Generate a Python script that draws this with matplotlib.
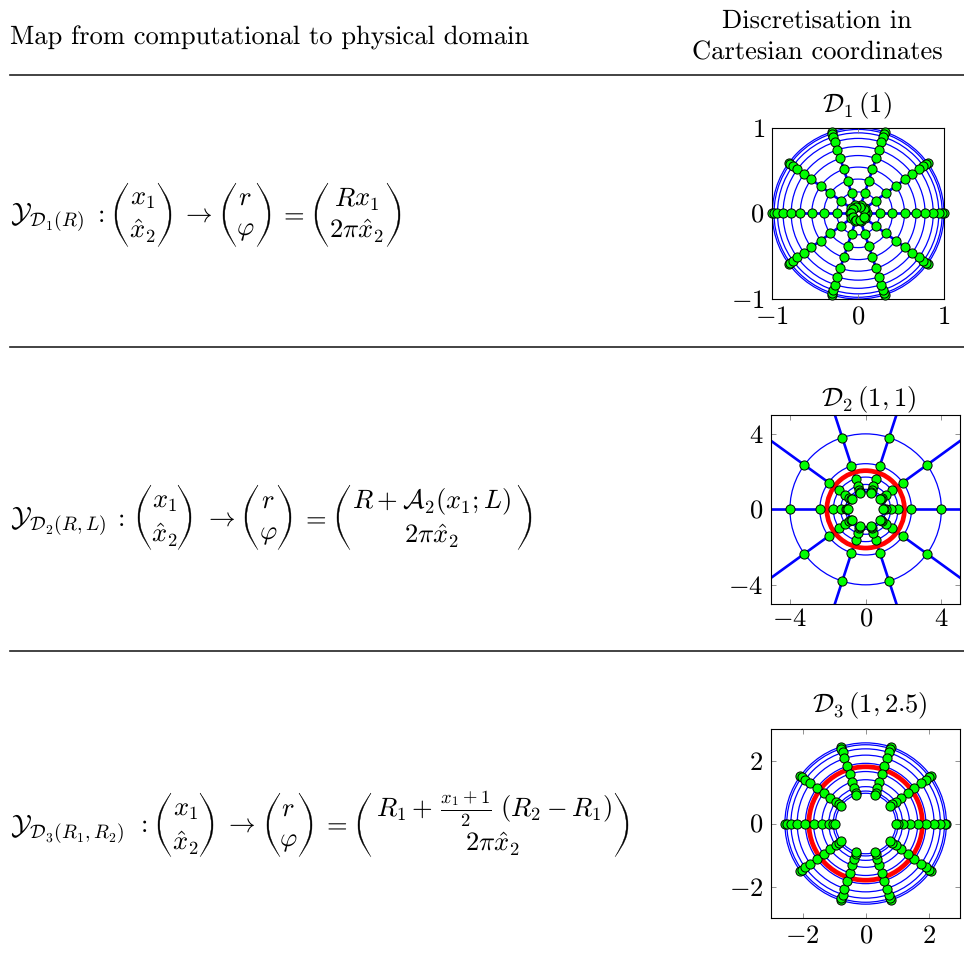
import numpy as np
import matplotlib
matplotlib.use('Agg')
import matplotlib.pyplot as plt
from matplotlib.patches import Circle, PathPatch
from matplotlib.path import Path

plt.rcParams['font.family'] = 'cmr10'
plt.rcParams['mathtext.fontset'] = 'cm'
plt.rcParams['axes.unicode_minus'] = False
plt.rcParams['axes.formatter.use_mathtext'] = True
plt.rcParams['text.hinting'] = 'none'
plt.rcParams['text.hinting_factor'] = 1

W, H = 964, 966
FS = 19.1

spoke_angles = [0, 36, 72, 108, 144, 180, 216, 252, 288, 324]

radii_1 = [1.0, 0.98, 0.94, 0.875, 0.78, 0.675, 0.54, 0.4, 0.25, 0.1, 0.08]
radii_2 = [4.0, 2.42, 1.71, 1.32, 1.06, 0.97, 0.92]
radii_3 = [2.56, 2.5, 2.37, 2.17, 1.91, 1.65, 1.39, 1.17, 1.03, 0.96]
red_ring_2 = 2.05
red_ring_3 = 1.8
spoke_end_2 = 8.0

ticks_1 = [-1, 0, 1]
ticks_2 = [-4, 0, 4]
ticks_3 = [-2, 0, 2]

BLUE = '#0000ff'
RED = '#ff0000'
GREEN = '#00ff00'

fig = plt.figure(figsize=(W / 100, H / 100), dpi=100)

# overlay in pixel coordinates for the table part
bg = fig.add_axes([0, 0, 1, 1])
bg.set_xlim(0, W)
bg.set_ylim(H, 0)
bg.axis('off')


def txt(x, y, s, ha='center', size=FS):
    bg.text(x, y, s, ha=ha, va='center', fontsize=size, color='black')


def paren(x0, x1, top, bottom, left=True):
    # crescent shaped big bracket
    if left:
        tip, belly, t = x1, x0, 1.7
    else:
        tip, belly, t = x0, x1, -1.7
    mid = (top + bottom) / 2
    h = bottom - top
    w = x1 - x0
    s = 1 if left else -1
    verts = [(tip, top),
             (belly + s * 0.25 * w, top + 0.22 * h), (belly, mid - 0.18 * h), (belly, mid),
             (belly, mid + 0.18 * h), (belly + s * 0.25 * w, bottom - 0.22 * h), (tip, bottom),
             (belly + s * 0.25 * w + t, bottom - 0.22 * h), (belly + t, mid + 0.18 * h), (belly + t, mid),
             (belly + t, mid - 0.18 * h), (belly + s * 0.25 * w + t, top + 0.22 * h), (tip, top)]
    codes = [Path.MOVETO] + [Path.CURVE4] * 12
    bg.add_patch(PathPatch(Path(verts, codes), fc='black', ec='black', lw=0.25))


for y in [75, 347, 651]:
    bg.plot([10, 964], [y, y], color='#222222', lw=1.2)

bg.text(10, 38, 'Map from computational to physical domain', ha='left', va='center', fontsize=FS)
txt(817, 21, 'Discretisation in')
txt(817, 53, 'Cartesian coordinates')

# row 1
txt(10, 217, r'$\mathcal{Y}_{\mathcal{D}_1(R)}$', ha='left', size=FS + 1)
txt(99, 215, r'$:$')
paren(115, 128, 183, 247)
txt(142, 199, r'$x_1$')
txt(142, 230, r'$\hat{x}_2$')
paren(158, 171, 183, 247, left=False)
txt(197, 215, r'$\rightarrow$')
paren(223, 236, 183, 247)
txt(245, 199, r'$r$')
txt(245, 231, r'$\varphi$')
paren(257, 270, 183, 247, left=False)
txt(292, 215, r'$=$')
paren(315, 328, 183, 247)
txt(357, 199, r'$Rx_1$')
txt(357, 230, r'$2\pi\hat{x}_2$')
paren(387, 400, 183, 247, left=False)

# row 2
txt(10, 521, r'$\mathcal{Y}_{\mathcal{D}_2(R,L)}$', ha='left', size=FS + 1)
txt(119, 519, r'$:$')
paren(138, 151, 485, 550)
txt(164, 502, r'$x_1$')
txt(164, 534, r'$\hat{x}_2$')
paren(178, 191, 485, 550, left=False)
txt(220, 519, r'$\rightarrow$')
paren(245, 258, 485, 550)
txt(268, 502, r'$r$')
txt(268, 535, r'$\varphi$')
paren(278, 291, 485, 550, left=False)
txt(314, 519, r'$=$')
paren(337, 350, 485, 550)
txt(432, 502, r'$R+\mathcal{A}_2(x_1;L)$')
txt(432, 535, r'$2\pi\hat{x}_2$')
paren(518, 531, 485, 550, left=False)

# row 3
txt(10, 829, r'$\mathcal{Y}_{\mathcal{D}_3(R_1,R_2)}$', ha='left', size=FS + 1)
txt(142, 825, r'$:$')
paren(158, 171, 793, 857)
txt(185, 810, r'$x_1$')
txt(185, 842, r'$\hat{x}_2$')
paren(200, 213, 793, 857, left=False)
txt(240, 825, r'$\rightarrow$')
paren(267, 280, 793, 857)
txt(288, 810, r'$r$')
txt(288, 842, r'$\varphi$')
paren(299, 312, 793, 857, left=False)
txt(335, 825, r'$=$')
paren(358, 371, 793, 857)
txt(494, 809, r'$R_1+\,\frac{x_1+1}{2}\,\,(R_2-R_1)$')
txt(493, 843, r'$2\pi\hat{x}_2$')
paren(615, 628, 793, 857, left=False)


def panel(box, lim, ticks, radii, title, title_xy, xpad, red=None, spoke_end=None):
    left, right, top, bottom = box
    ax = fig.add_axes([left / W, 1 - bottom / H, (right - left) / W, (bottom - top) / H])
    ax.set_xlim(-lim, lim)
    ax.set_ylim(-lim, lim)
    ax.set_facecolor('none')
    labels = [f'${t}$' if t >= 0 else f'$-{abs(t)}$' for t in ticks]
    ax.set_xticks(ticks, labels)
    ax.set_yticks(ticks, labels)
    ax.tick_params(direction='in', top=True, right=True, length=3.4, width=0.6,
                   color='#808080', labelsize=FS)
    ax.tick_params(axis='x', pad=xpad)
    ax.tick_params(axis='y', pad=5.5)
    for s in ax.spines.values():
        s.set_linewidth(0.8)
    for r in radii:
        ax.add_patch(Circle((0, 0), r, fc='none', ec=BLUE, lw=0.9))
    end = max(radii) if spoke_end is None else spoke_end
    for a in spoke_angles:
        c, s = np.cos(np.radians(a)), np.sin(np.radians(a))
        ax.plot([min(radii) * c, end * c], [min(radii) * s, end * s], color=BLUE, lw=1.9)
    if red is not None:
        ax.add_patch(Circle((0, 0), red, fc='none', ec=RED, lw=3.4, zorder=3))
    for a in spoke_angles:
        c, s = np.cos(np.radians(a)), np.sin(np.radians(a))
        ax.plot([r * c for r in radii], [r * s for r in radii], ls='none', marker='o',
                ms=6.6, mfc=GREEN, mec='black', mew=0.7, clip_on=False, zorder=4)
    bg.text(title_xy[0], title_xy[1], title, ha='center', va='center', fontsize=FS)
    return ax


panel((772.3, 944, 127.7, 299), 1, ticks_1, radii_1, r'$\mathcal{D}_1\,(1)$', (857, 106), 5)
panel((771, 960.3, 415, 603.7), 5, ticks_2, radii_2, r'$\mathcal{D}_2\,(1,1)$', (869, 400), 3,
      red=red_ring_2, spoke_end=spoke_end_2)
panel((771, 960.3, 729, 918), 3, ticks_3, radii_3, r'$\mathcal{D}_3\,(1,2.5)$', (869.5, 706), 5,
      red=red_ring_3)

fig.savefig('out.png', dpi=100)
